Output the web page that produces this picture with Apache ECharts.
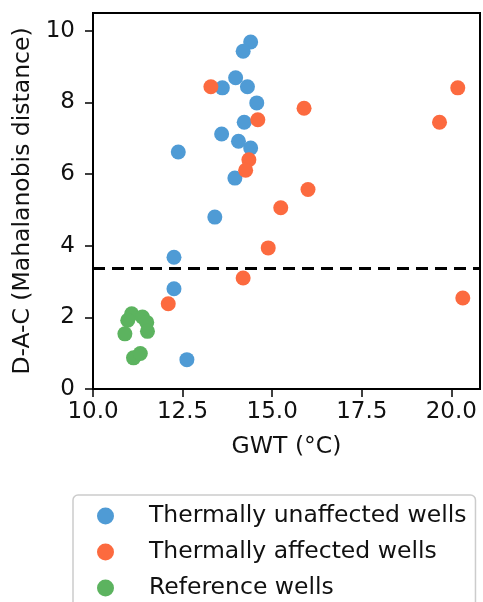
<!DOCTYPE html>
<html>
<head>
<meta charset="utf-8">
<script src="https://cdn.jsdelivr.net/npm/echarts@6/dist/echarts.min.js"></script>
<style>
  html, body { margin: 0; padding: 0; background: #fff; }
  #chart { width: 483px; height: 602px; }
</style>
</head>
<body>
<div id="chart"></div>
<script>
const unaffectedGwt = [14.40, 14.19, 13.98, 13.61, 14.31, 14.57, 14.22, 13.59, 14.06, 14.40, 12.38, 13.96, 13.40, 12.26, 12.26, 12.62];
const unaffectedDac = [9.69, 9.43, 8.69, 8.41, 8.44, 7.99, 7.45, 7.12, 6.92, 6.73, 6.62, 5.89, 4.80, 3.68, 2.80, 0.82];

const affectedGwt = [13.29, 15.89, 20.18, 19.67, 14.60, 14.35, 14.26, 16.00, 15.24, 14.89, 14.19, 12.10, 20.32];
const affectedDac = [8.44, 7.84, 8.41, 7.45, 7.52, 6.40, 6.11, 5.57, 5.06, 3.94, 3.10, 2.38, 2.54];

const referenceGwt = [11.08, 10.97, 11.38, 11.50, 10.89, 11.52, 11.13, 11.32];
const referenceDac = [2.10, 1.92, 2.01, 1.86, 1.54, 1.61, 0.87, 0.99];

const threshold = 3.38;

const xTicks = [10, 12.5, 15, 17.5, 20];
const yTicks = [0, 2, 4, 6, 8, 10];

const seriesNames = ['Thermally unaffected wells', 'Thermally affected wells', 'Reference wells'];
const colors = ['#4f9bd5', '#fc6a3f', '#5cb35f'];

const FONT = 'DejaVu Sans';

function pairs(xs, ys) {
  return xs.map((x, i) => [x, ys[i]]);
}

const chart = echarts.init(document.getElementById('chart'));

const tickStyle = { show: true, inside: false, length: 8, lineStyle: { color: '#000', width: 1.5 } };

chart.setOption({
  animation: false,
  backgroundColor: '#fff',
  grid: {
    left: 93, top: 13, right: 3, bottom: 213,
    show: true, borderColor: '#000', borderWidth: 2, backgroundColor: 'transparent'
  },
  xAxis: {
    type: 'value', min: 10, max: 20.8,
    name: 'GWT (°C)', nameLocation: 'middle', nameGap: 46,
    nameTextStyle: { fontFamily: FONT, fontSize: 23.5, color: '#111' },
    axisLine: { show: true, lineStyle: { color: '#000', width: 2 } },
    axisTick: Object.assign({ customValues: xTicks }, tickStyle),
    axisLabel: {
      customValues: xTicks, margin: 12,
      fontFamily: FONT, fontSize: 23, color: '#111',
      formatter: (v) => v.toFixed(1)
    },
    splitLine: { show: false }
  },
  yAxis: {
    type: 'value', min: 0, max: 10.5,
    name: 'D-A-C (Mahalanobis distance)', nameLocation: 'middle', nameGap: 54, nameRotate: 90,
    nameTextStyle: { fontFamily: FONT, fontSize: 23.5, color: '#111' },
    axisLine: { show: true, lineStyle: { color: '#000', width: 2 } },
    axisTick: Object.assign({ customValues: yTicks }, tickStyle),
    axisLabel: {
      customValues: yTicks, margin: 18,
      fontFamily: FONT, fontSize: 23, color: '#111'
    },
    splitLine: { show: false }
  },
  legend: {
    orient: 'vertical', left: 73, top: 495, height: 200,
    data: seriesNames.map((n) => ({ name: n, icon: 'circle' })),
    itemWidth: 17, itemHeight: 17, itemGap: 12,
    padding: [9, 9, 30, 24],
    backgroundColor: '#fff', borderColor: '#cccccc', borderWidth: 1.5, borderRadius: 5,
    textStyle: { fontFamily: FONT, fontSize: 23.5, color: '#111', lineHeight: 24, padding: [0, 0, 0, 30] }
  },
  series: [
    {
      name: seriesNames[0], type: 'scatter', symbolSize: 15,
      itemStyle: { color: colors[0], opacity: 1 },
      data: pairs(unaffectedGwt, unaffectedDac),
      markLine: {
        silent: true, symbol: ['none', 'none'], label: { show: false },
        lineStyle: { color: '#000', width: 3, type: [12, 7] },
        data: [{ yAxis: threshold }]
      },
      z: 2
    },
    {
      name: seriesNames[1], type: 'scatter', symbolSize: 15,
      itemStyle: { color: colors[1], opacity: 1 },
      data: pairs(affectedGwt, affectedDac), z: 3
    },
    {
      name: seriesNames[2], type: 'scatter', symbolSize: 15,
      itemStyle: { color: colors[2], opacity: 1 },
      data: pairs(referenceGwt, referenceDac), z: 4
    }
  ]
});
</script>
</body>
</html>
